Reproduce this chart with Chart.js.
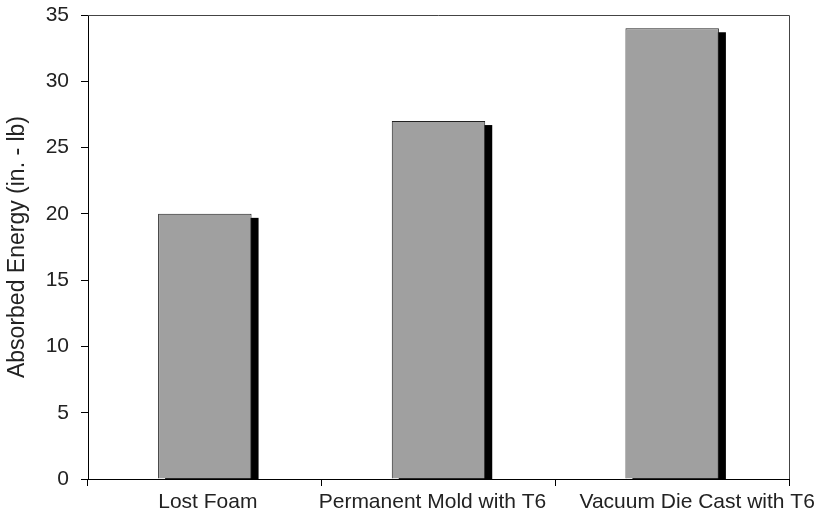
<!DOCTYPE html>
<html>
<head>
<meta charset="utf-8">
<script src="https://cdn.jsdelivr.net/npm/chart.js@4"></script>
<style>
  html, body { margin: 0; padding: 0; background: #fff; }
  #wrap { width: 817px; height: 514px; }
</style>
</head>
<body>
<div id="wrap"><canvas id="c" width="817" height="514"></canvas></div>
<script>
// 数据
const categories = ['Lost Foam', 'Permanent Mold with T6', 'Vacuum Die Cast with T6'];
const energy = [20, 27, 34];
const yTicks = [0, 5, 10, 15, 20, 25, 30, 35];

const FONT = '"Liberation Sans", Arial, sans-serif';
const TEXT = '#222';
// 分类标签的微调 (原图里最后一个标签偏右)
const labelNudge = [3, -6, 25];

// 阴影 + 外框 + 分类标签
const shadowFrame = {
    id: 'shadowFrame',
    beforeDatasetsDraw(chart) {
        const ctx = chart.ctx;
        const base = chart.scales.y.getPixelForValue(0);
        ctx.save();
        ctx.fillStyle = '#000';
        chart.getDatasetMeta(0).data.forEach(b => {
            const left = b.x - b.width / 2 + 7;
            const top = b.y + 4;
            ctx.fillRect(left, top, b.width, base - top);
        });
        ctx.restore();
    },
    afterDraw(chart) {
        const a = chart.chartArea, ctx = chart.ctx, x = chart.scales.x;
        ctx.save();
        ctx.strokeStyle = '#444';
        ctx.lineWidth = 1;
        ctx.beginPath();
        ctx.moveTo(a.left, a.top + 0.5);
        ctx.lineTo(a.right + 0.5, a.top + 0.5);
        ctx.lineTo(a.right + 0.5, a.bottom);
        ctx.stroke();

        ctx.fillStyle = TEXT;
        ctx.font = '21px ' + FONT;
        ctx.textAlign = 'center';
        ctx.textBaseline = 'alphabetic';
        categories.forEach((c, i) => {
            ctx.fillText(c, x.getPixelForTick(i) + labelNudge[i], a.bottom + 29);
        });
        ctx.restore();
    }
};

Chart.defaults.font.family = FONT;
Chart.defaults.color = TEXT;

new Chart(document.getElementById('c'), {
    type: 'bar',
    data: {
        labels: categories,
        datasets: [{
            data: energy,
            backgroundColor: '#a0a0a0',
            borderColor: '#222',
            borderWidth: 1,
            borderSkipped: 'bottom',
            categoryPercentage: 0.4,
            barPercentage: 1
        }]
    },
    options: {
        responsive: false,
        animation: false,
        layout: { padding: { left: 0, right: 28, top: 15, bottom: 0 } },
        plugins: { legend: { display: false }, tooltip: { enabled: false } },
        scales: {
            x: {
                afterFit: s => { s.height = 35; s.paddingLeft = 0; s.paddingRight = 0; },
                grid: { offset: true, drawOnChartArea: false, tickLength: 7, color: '#000' },
                border: { color: '#000', width: 1 },
                ticks: { display: false }
            },
            y: {
                min: 0, max: 35,
                afterFit: s => { s.width = 88; s.paddingTop = 0; s.paddingBottom = 0; },
                afterBuildTicks: s => { s.ticks = yTicks.map(v => ({ value: v })); },
                grid: { drawOnChartArea: false, tickLength: 7, color: '#000' },
                border: { color: '#000', width: 1 },
                ticks: { font: { size: 21 }, padding: 12 },
                title: {
                    display: true,
                    text: 'Absorbed Energy (in. - lb)',
                    font: { size: 23 },
                    color: TEXT,
                    padding: { top: 4, bottom: 0 }
                }
            }
        }
    },
    plugins: [shadowFrame]
});
</script>
</body>
</html>
